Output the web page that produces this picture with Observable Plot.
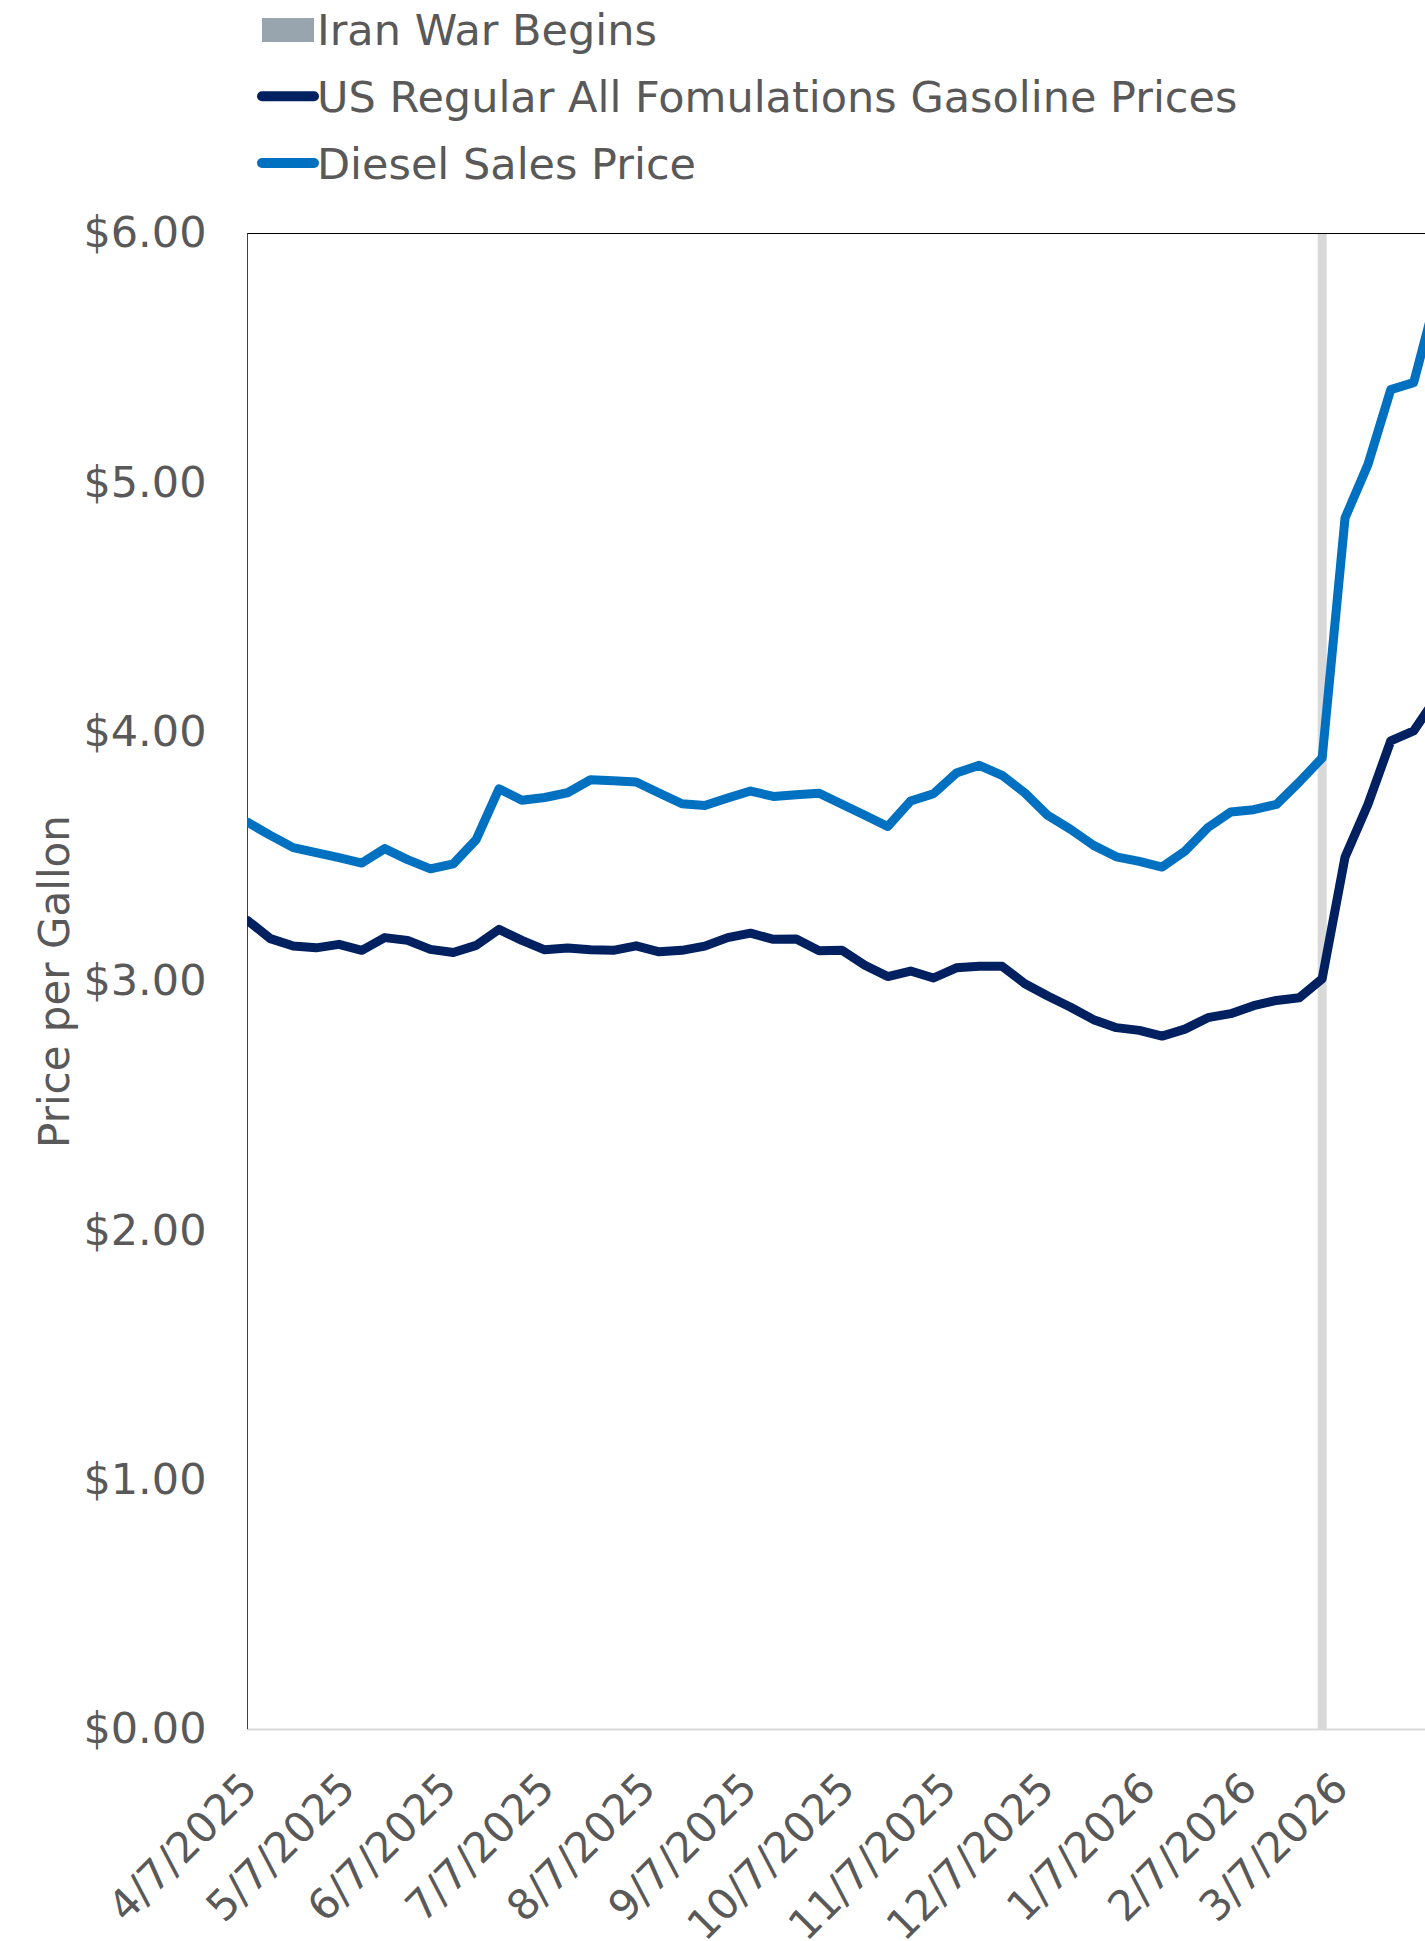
<!DOCTYPE html>
<html><head><meta charset="utf-8">
<script src="https://cdn.jsdelivr.net/npm/d3@7"></script>
<script src="https://cdn.jsdelivr.net/npm/@observablehq/plot@0.6"></script>
<style>
html,body{margin:0;padding:0;background:#fff;overflow:hidden;width:1425px;height:1941px}
svg{display:block}
#chart svg{max-width:none !important;width:1480px !important;height:1751px !important}
</style></head><body>
<svg id="legend" width="1425" height="190"></svg>
<div id="chart"></div>
<script>
// weekly observations (Mondays), 4/7/2025 .. 4/6/2026
const firstWeek = "2025-04-07";
const lastWeek = "2026-04-06";
const gasoline = [3.245,3.172,3.142,3.135,3.149,3.125,3.176,3.165,3.129,3.116,3.145,3.209,3.165,
  3.127,3.134,3.127,3.125,3.143,3.119,3.125,3.142,3.176,3.194,3.169,3.170,3.123,
  3.125,3.065,3.020,3.042,3.014,3.055,3.061,3.061,2.991,2.942,2.897,2.847,2.815,
  2.804,2.781,2.809,2.855,2.871,2.903,2.924,2.935,3.011,3.499,3.710,3.965,4.005,4.140];
const diesel = [3.639,3.586,3.537,3.517,3.497,3.475,3.533,3.489,3.452,3.472,3.569,3.773,3.727,
  3.738,3.757,3.809,3.805,3.800,3.756,3.713,3.706,3.736,3.764,3.742,3.749,3.755,
  3.711,3.667,3.622,3.724,3.753,3.836,3.867,3.827,3.756,3.666,3.610,3.546,3.500,
  3.482,3.459,3.523,3.617,3.680,3.689,3.710,3.800,3.897,4.859,5.073,5.374,5.402,5.750];
const warDates = ["2026-03-02"];
const tickDates = ["2025-04-07","2025-05-07","2025-06-07","2025-07-07","2025-08-07","2025-09-07",
  "2025-10-07","2025-11-07","2025-12-07","2026-01-07","2026-02-07","2026-03-07"];
const yTicks = [0,1,2,3,4,5,6];
const seriesNames = ["Iran War Begins","US Regular All Fomulations Gasoline Prices","Diesel Sales Price"];
const seriesColors = ["#98A4AE","#002060","#0070C0"];
const yTitle = "Price per Gallon";

const FONT = "'DejaVu Sans', Verdana, sans-serif";
const TXT = "#595959";

const weekDates = d3.utcMonday.range(new Date(firstWeek), d3.utcDay.offset(new Date(lastWeek), 1));
const rows = weekDates.map((date, i) => ({date, gas: gasoline[i], diesel: diesel[i]}));
const fmtDate = s => { const d = new Date(s); return `${d.getUTCMonth()+1}/${d.getUTCDate()}/${d.getUTCFullYear()}`; };

// legend
const lg = d3.select("#legend");
const rowsY = [45, 111.7, 178.5];
seriesNames.forEach((name, i) => {
  const by = rowsY[i];
  if (i === 0) {
    lg.append("rect").attr("x", 262).attr("y", 18).attr("width", 52).attr("height", 24).attr("fill", seriesColors[0]);
  } else {
    lg.append("line").attr("x1", 262).attr("x2", 314).attr("y1", by - 15.5).attr("y2", by - 15.5)
      .attr("stroke", seriesColors[i]).attr("stroke-width", 10).attr("stroke-linecap", "round");
  }
  lg.append("text").attr("x", 317).attr("y", by).attr("fill", TXT)
    .attr("font-family", FONT).attr("font-size", 43).text(name);
});

const chart = Plot.plot({
  width: 1480, height: 1751,
  marginLeft: 247, marginRight: 44, marginTop: 43, marginBottom: 212,
  style: {fontFamily: FONT, fontSize: "42px", color: TXT, background: "#fff", overflow: "visible"},
  x: {type: "utc", domain: [weekDates[0], weekDates[weekDates.length - 1]], axis: null},
  y: {domain: [0, 6], axis: null},
  marks: [
    Plot.ruleX(warDates.map(d => new Date(d)), {stroke: "#D9D9D9", strokeWidth: 9}),
    Plot.ruleY([0], {stroke: "#D9D9D9", strokeWidth: 2}),
    Plot.ruleY([6], {stroke: "#000", strokeWidth: 1}),
    Plot.ruleX([weekDates[0]], {stroke: "#404040", strokeWidth: 1}),
    Plot.line(rows, {x: "date", y: "gas", stroke: seriesColors[1], strokeWidth: 9, clip: true}),
    Plot.line(rows, {x: "date", y: "diesel", stroke: seriesColors[2], strokeWidth: 9, clip: true}),
    Plot.axisY({ticks: yTicks, tickSize: 0, tickPadding: 41, tickFormat: d => "$" + d.toFixed(2), fontSize: 43, fill: TXT}),
    Plot.text(tickDates, {x: d => new Date(d), frameAnchor: "bottom", text: fmtDate, rotate: -45,
      textAnchor: "end", lineAnchor: "bottom", dx: 12, dy: 61, fill: TXT, fontSize: 42}),
    Plot.text([yTitle], {frameAnchor: "left", rotate: -90, dx: -179, textAnchor: "middle", lineAnchor: "bottom", fill: TXT, fontSize: 42})
  ]
});
document.getElementById("chart").appendChild(chart);
</script>
</body></html>
